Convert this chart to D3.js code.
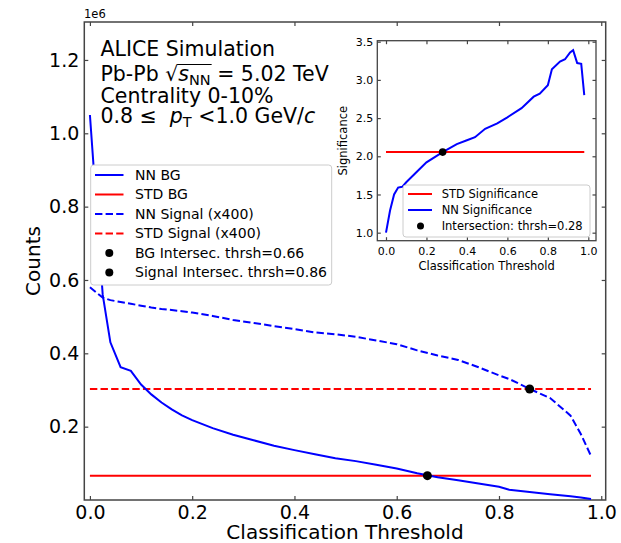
<!DOCTYPE html>
<html>
<head>
<meta charset="utf-8">
<script src="https://cdn.jsdelivr.net/npm/d3@7"></script>
<style>
  body { margin: 0; background: #fff; }
  text { font-family: "DejaVu Sans", sans-serif; fill: #000; }
</style>
</head>
<body>
<div id="chart"></div>
<script>
// main panel data (counts in units of 1e6)
const thresholds = [0, 0.025, 0.04, 0.06, 0.08, 0.10, 0.12, 0.14, 0.16, 0.18, 0.20, 0.24, 0.28, 0.32, 0.36,
  0.40, 0.44, 0.48, 0.52, 0.56, 0.60, 0.64, 0.68, 0.72, 0.76, 0.80, 0.82, 0.86, 0.90, 0.94, 0.96, 0.98];
const nnBg = [1.05, 0.56, 0.43, 0.362, 0.352, 0.315, 0.288, 0.266, 0.247, 0.231, 0.218, 0.196, 0.178, 0.163, 0.148,
  0.136, 0.125, 0.114, 0.106, 0.096, 0.086, 0.073, 0.062, 0.054, 0.045, 0.036, 0.028, 0.022, 0.016, 0.010, 0.007, 0.003];
const nnSignal = [0.58, 0.552, 0.545, 0.54, 0.535, 0.53, 0.525, 0.521, 0.518, 0.515, 0.511, 0.502, 0.491, 0.483, 0.474,
  0.466, 0.457, 0.452, 0.445, 0.435, 0.425, 0.408, 0.394, 0.382, 0.362, 0.34, 0.33, 0.303, 0.278, 0.23, 0.18, 0.12];
const stdBg = 0.0663;
const stdSignal = 0.3027;
const bgIntersect = 0.66;
const signalIntersect = 0.86;

// inset data
const insetThresholds = [0, 0.02, 0.04, 0.06, 0.08, 0.10, 0.15, 0.20, 0.28, 0.35, 0.40, 0.44, 0.49, 0.55, 0.60,
  0.67, 0.73, 0.76, 0.80, 0.82, 0.86, 0.885, 0.91, 0.925, 0.945, 0.965, 0.98];
const nnSignificance = [1.0, 1.29, 1.50, 1.59, 1.60, 1.66, 1.79, 1.92, 2.055, 2.16, 2.21, 2.25, 2.36, 2.43, 2.51,
  2.63, 2.78, 2.82, 2.93, 3.14, 3.24, 3.27, 3.36, 3.39, 3.22, 3.21, 2.80];
const stdSignificance = 2.055;
const significanceIntersect = 0.28;

const xTicks = [0, 0.2, 0.4, 0.6, 0.8, 1.0];
const yTicks = [0.2, 0.4, 0.6, 0.8, 1.0, 1.2];
const insetYTicks = [1.0, 1.5, 2.0, 2.5, 3.0, 3.5];

const mainLegend = ['NN BG', 'STD BG', 'NN Signal (x400)', 'STD Signal (x400)',
  'BG Intersec. thrsh=0.66', 'Signal Intersec. thrsh=0.86'];
const insetLegend = ['STD Significance', 'NN Significance', 'Intersection: thrsh=0.28'];

let width = 621;
let height = 543;
let dash = '7.4,3.2';

let svg = d3.select('#chart')
    .append('svg')
        .attr('width', width)
        .attr('height', height);

// ---------- main axes ----------
let m = {left: 84.3, right: 605.7, top: 22, bottom: 500};
let x = d3.scaleLinear().domain([-0.011, 1.0087]).range([m.left, m.right]);
let y = d3.scaleLinear().domain([0, 1.3035]).range([m.bottom, m.top]);

function ticks(g) {
    g.select('.domain').remove();
    g.selectAll('line').attr('stroke', '#444').attr('stroke-width', 1.2);
}

svg.append('g')
    .attr('transform', 'translate(0,' + m.bottom + ')')
    .call(d3.axisBottom(x).tickValues(xTicks).tickFormat(d3.format('.1f')).tickSizeInner(-4).tickPadding(6))
    .call(ticks)
    .selectAll('text').style('font-size', '19px').style('font-family', 'DejaVu Sans');
svg.append('g')
    .attr('transform', 'translate(0,' + m.top + ')')
    .call(d3.axisTop(x).tickValues(xTicks).tickFormat('').tickSizeInner(-4))
    .call(ticks);
svg.append('g')
    .attr('transform', 'translate(' + m.left + ',0)')
    .call(d3.axisLeft(y).tickValues(yTicks).tickFormat(d3.format('.1f')).tickSizeInner(-4).tickPadding(5))
    .call(ticks)
    .selectAll('text').style('font-size', '19px').style('font-family', 'DejaVu Sans');
svg.append('g')
    .attr('transform', 'translate(' + m.right + ',0)')
    .call(d3.axisRight(y).tickValues(yTicks).tickFormat('').tickSizeInner(-4))
    .call(ticks);

svg.append('rect')
    .attr('x', m.left).attr('y', m.top)
    .attr('width', m.right - m.left).attr('height', m.bottom - m.top)
    .attr('fill', 'none').attr('stroke', '#444').attr('stroke-width', 1.5);

svg.append('text').attr('x', 84).attr('y', 18).style('font-size', '11.5px').text('1e6');
svg.append('text')
    .attr('transform', 'translate(40,' + (m.top + m.bottom) / 2 + ') rotate(-90)')
    .attr('text-anchor', 'middle').style('font-size', '20px').text('Counts');
svg.append('text')
    .attr('x', (m.left + m.right) / 2).attr('y', 539)
    .attr('text-anchor', 'middle').style('font-size', '20px').text('Classification Threshold');

let line = d3.line().x(d => x(d[0])).y(d => y(d[1]));
let xEnds = d3.extent(thresholds);

svg.append('path')
    .attr('d', line(xEnds.map(t => [t, stdBg])))
    .attr('fill', 'none').attr('stroke', 'red').attr('stroke-width', 2);
svg.append('path')
    .attr('d', line(xEnds.map(t => [t, stdSignal])))
    .attr('fill', 'none').attr('stroke', 'red').attr('stroke-width', 2).attr('stroke-dasharray', dash);
svg.append('path')
    .attr('d', line(thresholds.map((t, i) => [t, nnBg[i]])))
    .attr('fill', 'none').attr('stroke', 'blue').attr('stroke-width', 2);
svg.append('path')
    .attr('d', line(thresholds.map((t, i) => [t, nnSignal[i]])))
    .attr('fill', 'none').attr('stroke', 'blue').attr('stroke-width', 2).attr('stroke-dasharray', dash);

svg.selectAll('.cross')
        .data([[bgIntersect, stdBg], [signalIntersect, stdSignal]])
    .enter().append('circle')
        .attr('cx', d => x(d[0])).attr('cy', d => y(d[1])).attr('r', 4.5).attr('fill', 'black');

// text block
let tb = svg.append('g').style('font-size', '20.5px');
tb.append('text').attr('x', 100.5).attr('y', 56).text('ALICE Simulation');

function mathLine(g, x0, y0, parts) {
    let t = g.append('text').attr('x', x0).attr('y', y0).style('white-space', 'pre');
    let shift = 0;
    parts.forEach(p => {
        let dy = (p.dy || 0) - shift;
        shift = p.dy || 0;
        let s = t.append('tspan').attr('dy', dy).text(p.s);
        if (p.it) s.style('font-style', 'italic');
        if (p.sub) s.style('font-size', '14.5px');
    });
    return t;
}
let l2 = mathLine(tb, 100.5, 81, [
    {s: 'Pb-Pb '}, {s: '\u221A'}, {s: 's', it: true}, {s: 'NN', sub: true, dy: 3.5}, {s: ' = 5.02 TeV'}
]);
let rootBox = l2.node().getExtentOfChar(6);
let nnBox = l2.node().getExtentOfChar(9);
tb.append('line')
    .attr('x1', rootBox.x + rootBox.width - 1).attr('x2', nnBox.x + nnBox.width + 1)
    .attr('y1', 64.5).attr('y2', 64.5)
    .attr('stroke', 'black').attr('stroke-width', 1.1);
tb.append('text').attr('x', 100.5).attr('y', 103).text('Centrality 0-10%');
mathLine(tb, 100.5, 123, [
    {s: '0.8 \u2264  '}, {s: 'p', it: true}, {s: 'T', sub: true, dy: 3.5}, {s: ' <1.0 GeV/'}, {s: 'c', it: true}
]);

// main legend
let lg = svg.append('g').style('font-size', '14px');
lg.append('rect')
    .attr('x', 90.7).attr('y', 165).attr('width', 241).attr('height', 120).attr('rx', 3)
    .attr('fill', 'white').attr('stroke', '#ccc').attr('stroke-width', 1);
let lgStyle = [
    {c: 'blue', d: null}, {c: 'red', d: null}, {c: 'blue', d: dash}, {c: 'red', d: dash}, {dot: true}, {dot: true}
];
mainLegend.forEach((label, i) => {
    let cy = 175 + i * 19.5;
    let s = lgStyle[i];
    if (s.dot) {
        lg.append('circle').attr('cx', 109.3).attr('cy', cy).attr('r', 4).attr('fill', 'black');
    } else {
        lg.append('line').attr('x1', 95).attr('x2', 123.5).attr('y1', cy).attr('y2', cy)
            .attr('stroke', s.c).attr('stroke-width', 2).attr('stroke-dasharray', s.d);
    }
    lg.append('text').attr('x', 135).attr('y', cy).attr('dy', '0.35em').text(label);
});

// ---------- inset ----------
let n = {left: 377.3, right: 596, top: 40.7, bottom: 240.7};
svg.append('rect')
    .attr('x', n.left).attr('y', n.top).attr('width', n.right - n.left).attr('height', n.bottom - n.top)
    .attr('fill', 'white');
let xi = d3.scaleLinear().domain([-0.043, 1.038]).range([n.left, n.right]);
let yi = d3.scaleLinear().domain([0.895, 3.513]).range([n.bottom, n.top]);

svg.append('g')
    .attr('transform', 'translate(0,' + n.bottom + ')')
    .call(d3.axisBottom(xi).tickValues(xTicks).tickFormat(d3.format('.1f')).tickSizeInner(-3.5).tickPadding(7))
    .call(ticks)
    .selectAll('text').style('font-size', '11px').style('font-family', 'DejaVu Sans');
svg.append('g')
    .attr('transform', 'translate(0,' + n.top + ')')
    .call(d3.axisTop(xi).tickValues(xTicks).tickFormat('').tickSizeInner(-3.5))
    .call(ticks);
svg.append('g')
    .attr('transform', 'translate(' + n.left + ',0)')
    .call(d3.axisLeft(yi).tickValues(insetYTicks).tickFormat(d3.format('.1f')).tickSizeInner(-3.5).tickPadding(4))
    .call(ticks)
    .selectAll('text').style('font-size', '11px').style('font-family', 'DejaVu Sans');
svg.append('g')
    .attr('transform', 'translate(' + n.right + ',0)')
    .call(d3.axisRight(yi).tickValues(insetYTicks).tickFormat('').tickSizeInner(-3.5))
    .call(ticks);
svg.append('rect')
    .attr('x', n.left).attr('y', n.top).attr('width', n.right - n.left).attr('height', n.bottom - n.top)
    .attr('fill', 'none').attr('stroke', '#444').attr('stroke-width', 1.3);

svg.append('text')
    .attr('transform', 'translate(347,' + (n.top + n.bottom) / 2 + ') rotate(-90)')
    .attr('text-anchor', 'middle').style('font-size', '11.5px').text('Significance');
svg.append('text')
    .attr('x', (n.left + n.right) / 2).attr('y', 270)
    .attr('text-anchor', 'middle').style('font-size', '11.5px').text('Classification Threshold');

let lineI = d3.line().x(d => xi(d[0])).y(d => yi(d[1]));
svg.append('path')
    .attr('d', lineI(d3.extent(insetThresholds).map(t => [t, stdSignificance])))
    .attr('fill', 'none').attr('stroke', 'red').attr('stroke-width', 2);
svg.append('path')
    .attr('d', lineI(insetThresholds.map((t, i) => [t, nnSignificance[i]])))
    .attr('fill', 'none').attr('stroke', 'blue').attr('stroke-width', 2);
svg.append('circle')
    .attr('cx', xi(significanceIntersect)).attr('cy', yi(stdSignificance)).attr('r', 3.8).attr('fill', 'black');

let il = svg.append('g').style('font-size', '11.5px');
il.append('rect')
    .attr('x', 403).attr('y', 185).attr('width', 187).attr('height', 52).attr('rx', 3)
    .attr('fill', 'white').attr('stroke', '#ccc').attr('stroke-width', 1);
insetLegend.forEach((label, i) => {
    let cy = 194 + i * 16;
    if (i < 2) {
        il.append('line').attr('x1', 408).attr('x2', 432).attr('y1', cy).attr('y2', cy)
            .attr('stroke', i === 0 ? 'red' : 'blue').attr('stroke-width', 2);
    } else {
        il.append('circle').attr('cx', 420.5).attr('cy', cy).attr('r', 3.5).attr('fill', 'black');
    }
    il.append('text').attr('x', 441.7).attr('y', cy).attr('dy', '0.35em').text(label);
});
</script>
</body>
</html>
